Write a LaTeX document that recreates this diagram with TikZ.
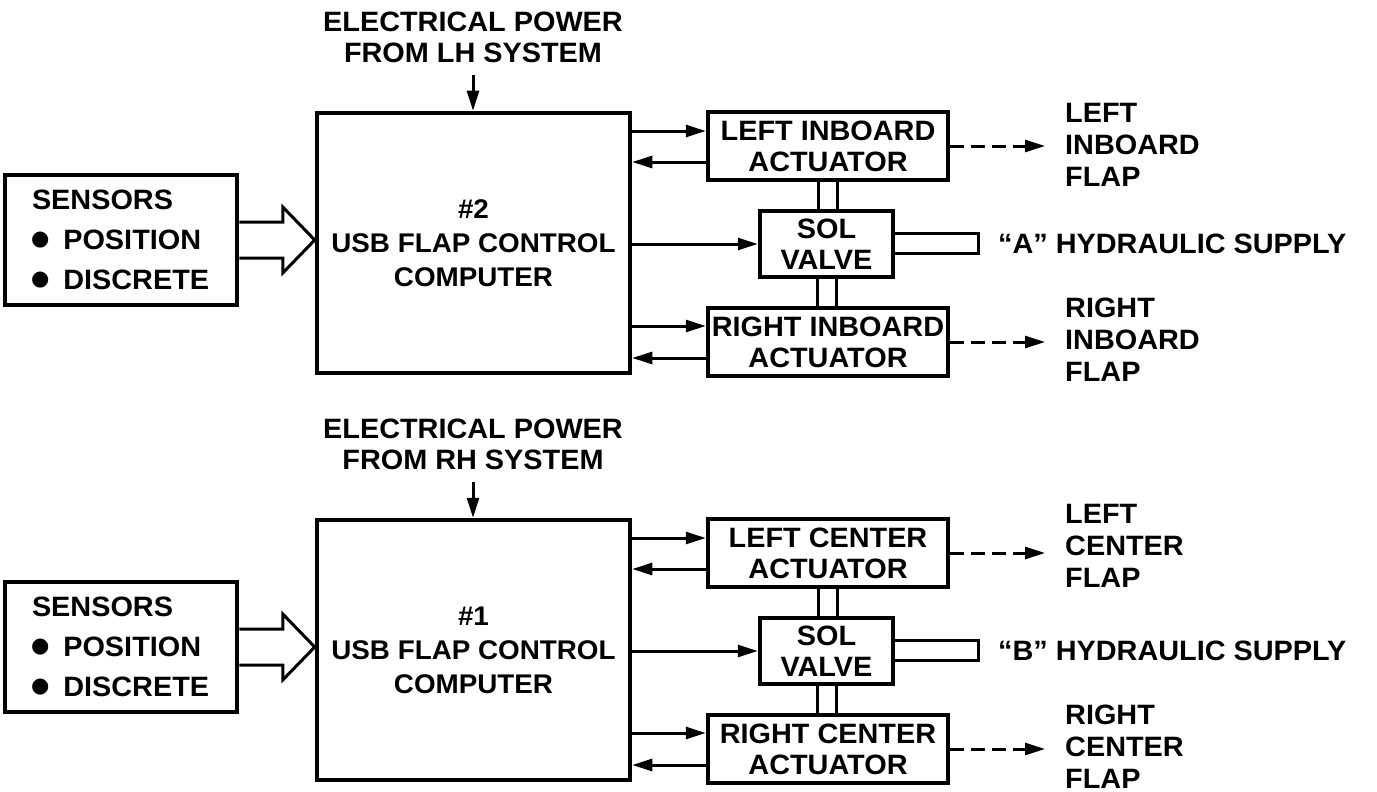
\documentclass[tikz,border=0pt]{standalone}
\usepackage{fontspec}
\setmainfont{Liberation Sans}[FakeStretch=1.03]
\newfontfamily\djv{DejaVu Sans}
\usetikzlibrary{arrows.meta,calc}
\newcommand{\bigbul}{{\djv\fontsize{21}{31}\selectfont\raisebox{4pt}{●}}}
\begin{document}
\begin{tikzpicture}[x=1pt,y=-1pt,
  every node/.style={font=\bfseries\fontsize{28}{31}\selectfont},
  box/.style={draw,line width=4.5pt,inner sep=0pt,align=center},
  conn/.style={line width=3pt,-{Triangle[length=20pt,width=12pt]}},
  dconn/.style={conn,dash pattern=on 14pt off 7pt},
  pipe/.style={line width=3pt},
  fat/.style={line width=3pt,line join=miter,fill=white},
  lbl/.style={align=left,anchor=west,inner xsep=20pt,inner ysep=0pt},
]
\fill[white] (0,0) rectangle (1377,792);
\useasboundingbox (0,0) rectangle (1377,792);
\foreach \dy/\n/\pw/\la/\ra/\hl/\lf/\rf/\lfy in {
  0/2/LH/{LEFT INBOARD}/{RIGHT INBOARD}/A/{LEFT\\[1pt]INBOARD\\[1pt]FLAP}/{RIGHT\\[1pt]INBOARD\\[1pt]FLAP}/145,
  407/1/RH/{LEFT CENTER}/{RIGHT CENTER}/B/{LEFT\\[1pt]CENTER\\[1pt]FLAP}/{RIGHT\\[1pt]CENTER\\[1pt]FLAP}/139}{
  % boxes
  \node[box,minimum width=313pt,minimum height=260pt,font=\bfseries\fontsize{27}{31}\selectfont] (comp\n) at (473.5,243+\dy)
     {\#\n\\[3pt]USB FLAP CONTROL\\[3pt]COMPUTER};
  \node[box,minimum width=232pt,minimum height=130pt,align=left,text width=178pt] (sens\n) at (121,240+\dy)
     {SENSORS\\[9pt]\hspace{-1pt}\bigbul\hspace{14pt}POSITION\\[9pt]\hspace{-1pt}\bigbul\hspace{14pt}DISCRETE};
  \node[align=center,inner xsep=2pt,inner ysep=12pt] (pw\n) at (473,37.5+\dy) {ELECTRICAL POWER\\FROM \pw\ SYSTEM};
  \node[box,minimum width=240pt,minimum height=68pt] (la\n) at (828,146+\dy) {\la\\ACTUATOR};
  \node[box,minimum width=133pt,minimum height=66pt] (sol\n) at (826.5,244+\dy) {SOL\\VALVE};
  \node[box,minimum width=240pt,minimum height=68pt] (ra\n) at (828,342+\dy) {\ra\\ACTUATOR};
  \node[lbl] (hyd\n) at (978,244+\dy) {“\hl” HYDRAULIC SUPPLY};
  \node[lbl] (lf\n) at (1045,\lfy+\dy) {\lf};
  \node[lbl] (rf\n) at (1045,340+\dy) {\rf};
  % power arrow
  \draw[conn] (pw\n.south) -- (pw\n.south |- comp\n.north);
  % fat arrow from sensors
  \coordinate (tip\n) at (comp\n.west |- sens\n.east);
  \draw[fat] ($(sens\n.east)+(0,-18)$) -- ($(tip\n)+(-32,-18)$) -- ($(tip\n)+(-32,-33)$)
     -- (tip\n) -- ($(tip\n)+(-32,33)$) -- ($(tip\n)+(-32,18)$) -- ($(sens\n.east)+(0,18)$);
  % computer <-> actuators
  \coordinate (lain\n) at ($(la\n.west)+(0,-15)$);
  \coordinate (laout\n) at ($(la\n.west)+(0,16)$);
  \coordinate (rain\n) at ($(ra\n.west)+(0,-16)$);
  \coordinate (raout\n) at ($(ra\n.west)+(0,16)$);
  \draw[conn] (comp\n.east |- lain\n) -- (lain\n);
  \draw[conn] (laout\n) -- (comp\n.east |- laout\n);
  \draw[conn] (comp\n.east |- sol\n.west) -- (sol\n.west);
  \draw[conn] (comp\n.east |- rain\n) -- (rain\n);
  \draw[conn] (raout\n) -- (comp\n.east |- raout\n);
  % hydraulic double lines
  \foreach \s in {-9.5,9.5}{
    \draw[pipe] ([xshift=\s pt]la\n.south) -- ([xshift=\s pt]la\n.south |- sol\n.north);
    \draw[pipe] ([xshift=\s pt]sol\n.south) -- ([xshift=\s pt]sol\n.south |- ra\n.north);
  }
  % supply pipe
  \draw[pipe] ($(sol\n.east)+(0,-11)$) -- ($(hyd\n.west)+(0,-11)$) -- ($(hyd\n.west)+(0,9)$) -- ($(sol\n.east)+(0,9)$);
  % flap outputs
  \draw[dconn] (la\n.east) -- (lf\n.west |- la\n.east);
  \draw[dconn] (ra\n.east) -- (rf\n.west |- ra\n.east);
}
\end{tikzpicture}
\end{document}
